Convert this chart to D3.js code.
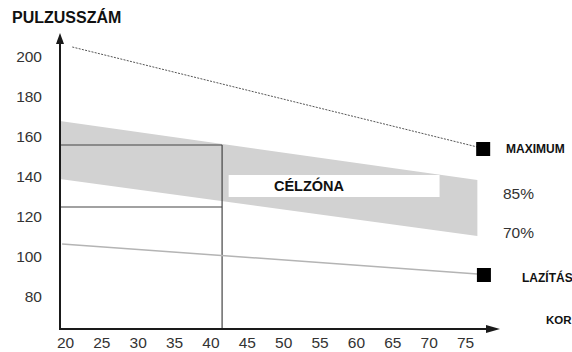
<!DOCTYPE html>
<html><head><meta charset="utf-8">
<script src="https://cdn.jsdelivr.net/npm/d3@7"></script>
<style>
body{margin:0;background:#fff;}
svg{display:block;}
.num{font-family:"Liberation Sans Narrow","Arial Narrow","Liberation Sans",Arial,sans-serif;font-size:15.5px;fill:#333;}
.bold{font-family:"Liberation Sans",Arial,sans-serif;font-weight:bold;fill:#111;}
</style></head>
<body>
<script>
// ---- data ----
const xTicks = [20,25,30,35,40,45,50,55,60,65,70,75];
const yTicks = [80,100,120,140,160,180,200];
const bandAges = [19.3, 76.7];
const bandUpper = [168, 138.5];   // 85% edge
const bandLower = [139, 110.5];   // 70% edge
const maxAges = [21, 76.7];
const maxValues = [205, 155];
const maxMarker = {age:77.5, value:154};
const restAges = [19.6, 76.7];
const restValues = [106.5, 91.5];
const restMarker = {age:77.6, value:91};
const exampleAge = 41.6;
const exampleValues = [156, 125];
const zoneBox = {age0:42.5, age1:71.5, v0:141, v1:130};

const W=572,H=352;
const svg=d3.select("body").append("svg").attr("width",W).attr("height",H);
const x=d3.scaleLinear().domain([20,75]).range([65,465]);
const y=d3.scaleLinear().domain([80,200]).range([297,57]);
const x0=60, yBase=329;

// band
const band=bandAges.map((a,i)=>({a,u:bandUpper[i],l:bandLower[i]}));
svg.append("path").datum(band)
  .attr("d",d3.area().x(d=>x(d.a)).y0(d=>y(d.l)).y1(d=>y(d.u)))
  .attr("fill","#d2d2d2");

// white zone label box
svg.append("rect").attr("x",x(zoneBox.age0)).attr("y",y(zoneBox.v0))
  .attr("width",x(zoneBox.age1)-x(zoneBox.age0)).attr("height",y(zoneBox.v1)-y(zoneBox.v0))
  .attr("fill","#fff");
svg.append("text").attr("class","bold").attr("x",309).attr("y",y((zoneBox.v0+zoneBox.v1)/2))
  .attr("dy","0.36em").attr("text-anchor","middle").style("font-size","14.5px").text("CÉLZÓNA");

// example lines (age ~40)
exampleValues.forEach(v=>{
  svg.append("line").attr("x1",x0).attr("x2",x(exampleAge)).attr("y1",y(v)).attr("y2",y(v))
    .attr("stroke","#444").attr("stroke-width",1.2);
});
svg.append("line").attr("x1",x(exampleAge)).attr("x2",x(exampleAge))
  .attr("y1",y(exampleValues[0])).attr("y2",yBase).attr("stroke","#444").attr("stroke-width",1.2);

// max dotted line
const line=d3.line().x(d=>x(d[0])).y(d=>y(d[1]));
svg.append("path").datum(maxAges.map((a,i)=>[a,maxValues[i]])).attr("d",line)
  .attr("fill","none").attr("stroke","#555").attr("stroke-width",1).attr("stroke-dasharray","2,1.3");
// resting line
svg.append("path").datum(restAges.map((a,i)=>[a,restValues[i]])).attr("d",line)
  .attr("fill","none").attr("stroke","#b4b4b4").attr("stroke-width",1.5);

// markers
[maxMarker,restMarker].forEach(m=>{
  svg.append("rect").attr("x",x(m.age)-7).attr("y",y(m.value)-7).attr("width",14).attr("height",14).attr("fill","#000");
});

// axes lines with arrows
svg.append("line").attr("x1",x0).attr("x2",x0).attr("y1",yBase).attr("y2",42).attr("stroke","#1a1a1a").attr("stroke-width",2);
svg.append("path").attr("d",`M${x0-4},44 L${x0},33 L${x0+4},44 Z`).attr("fill","#1a1a1a");
svg.append("line").attr("x1",x0-1).attr("x2",490).attr("y1",yBase).attr("y2",yBase).attr("stroke","#1a1a1a").attr("stroke-width",2);
svg.append("path").attr("d",`M486,${yBase-4} L500,${yBase} L486,${yBase+4} Z`).attr("fill","#1a1a1a");

// tick labels via axes
const ax=svg.append("g").attr("transform",`translate(0,${yBase})`)
  .call(d3.axisBottom(x).tickValues(xTicks).tickSize(0).tickPadding(8));
ax.select(".domain").remove();
ax.selectAll("text").attr("class","num").attr("font-size",null).attr("font-family",null).attr("fill",null);
const ay=svg.append("g").attr("transform",`translate(${x0},0)`)
  .call(d3.axisLeft(y).tickValues(yTicks).tickSize(0).tickPadding(18));
ay.select(".domain").remove();
ay.selectAll("text").attr("class","num").attr("font-size",null).attr("font-family",null).attr("fill",null);

// labels
svg.append("text").attr("class","bold").attr("x",12).attr("y",23).style("font-size","16px").text("PULZUSSZÁM");
svg.append("text").attr("class","bold").attr("x",506).attr("y",y(maxMarker.value)).attr("dy","0.36em").style("font-size","12px").text("MAXIMUM");
svg.append("text").attr("class","num").attr("x",503).attr("y",193).attr("dy","0.36em").text("85%");
svg.append("text").attr("class","num").attr("x",503).attr("y",232).attr("dy","0.36em").text("70%");
svg.append("text").attr("class","bold").attr("x",522).attr("y",y(restMarker.value)+3).attr("dy","0.36em").style("font-size","12px").text("LAZÍTÁS");
svg.append("text").attr("class","bold").attr("x",546).attr("y",320).attr("dy","0.36em").style("font-size","11.5px").text("KOR");
</script>
</body></html>
